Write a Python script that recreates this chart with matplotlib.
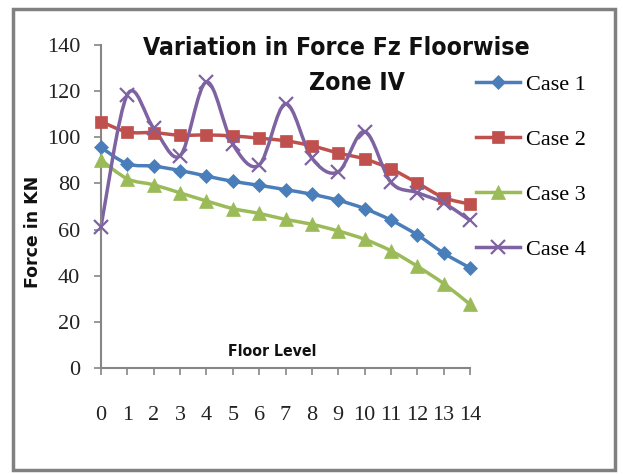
import matplotlib
matplotlib.use('Agg')
import os
import matplotlib.pyplot as plt
from matplotlib.path import Path
from matplotlib.patches import PathPatch, Rectangle
from matplotlib.lines import Line2D
from matplotlib import font_manager as fm

# ---------------- data ----------------
floors = list(range(15))
tick_labels = [str(f) for f in floors]
series_names = ["Case 1", "Case 2", "Case 3", "Case 4"]
case1 = [95.6, 88.5, 87.5, 85.6, 83.2, 80.9, 79.2, 77.3, 75.3, 72.7, 69.1, 64.1, 57.7, 49.8, 43.4]
case2 = [106.8, 102.3, 102.0, 100.9, 101.0, 100.6, 99.6, 98.5, 96.3, 93.2, 90.6, 86.3, 80.2, 73.9, 71.0]
case3 = [90.2, 82.0, 79.4, 75.9, 72.4, 69.1, 67.0, 64.4, 62.3, 59.4, 55.8, 50.8, 44.1, 36.6, 27.6]
case4 = [61.3, 118.5, 104.0, 92.0, 124.0, 97.0, 88.0, 114.5, 91.0, 85.0, 102.5, 80.5, 76.0, 71.5, 64.0]
yticks = [0, 20, 40, 60, 80, 100, 120, 140]
title_lines = ["Variation in Force Fz Floorwise", "Zone IV"]

# ---------------- styles ----------------
colors = ["#4A7EBB", "#C0504D", "#9BBB59", "#7E62A1"]
markers = ["D", "s", "^", "x"]
msizes = [7.5, 9, 10, 10]


def pick(names):
    avail = {f.name for f in fm.fontManager.ttflist}
    for n in names:
        if n in avail:
            return n
    return "DejaVu Sans"


def narrow_bold():
    """Find a condensed / narrow bold sans font file, if any is installed."""
    files = [f.fname for f in fm.fontManager.ttflist]
    prefs = ["LiberationSansNarrow-Bold", "ArialNarrow-Bold", "NotoSans-CondensedBold",
             "DejaVuSansCondensed-Bold", "OpenSans-CondensedBold", "OpenSans_Condensed-Bold",
             "RobotoCondensed-Bold", "NotoSans-SemiCondensedBold"]
    for p in prefs:
        for f in files:
            if os.path.basename(f).lower().startswith(p.lower()):
                return fm.FontProperties(fname=f), True
    for f in files:
        b = os.path.basename(f).lower()
        if ("condensed" in b or "narrow" in b) and "bold" in b and "extra" not in b and "semi" not in b:
            return fm.FontProperties(fname=f), True
    return fm.FontProperties(family="DejaVu Sans", weight="bold"), False


serif = pick(["Liberation Serif", "DejaVu Serif"])
nb_props, nb_found = narrow_bold()


def nb(size):
    p = nb_props.copy()
    p.set_size(size if nb_found else size * 0.8)
    return p


def smooth_path(xs, ys):
    """Excel-like smoothed line as cubic Bezier path through the data points."""
    pts = list(zip(xs, ys))
    n = len(pts)
    verts = [pts[0]]
    codes = [Path.MOVETO]
    for i in range(n - 1):
        p0 = pts[i - 1] if i > 0 else pts[i]
        p1 = pts[i]
        p2 = pts[i + 1]
        p3 = pts[i + 2] if i + 2 < n else pts[i + 1]
        c1 = (p1[0] + (p2[0] - p0[0]) / 6.0, p1[1] + (p2[1] - p0[1]) / 6.0)
        c2 = (p2[0] - (p3[0] - p1[0]) / 6.0, p2[1] - (p3[1] - p1[1]) / 6.0)
        verts += [c1, c2, p2]
        codes += [Path.CURVE4] * 3
    return Path(verts, codes)


W, H = 623, 474
fig = plt.figure(figsize=(W / 100, H / 100), dpi=100)
fig.patch.set_facecolor("white")

# outer chart border
fig.patches.append(Rectangle((13 / W, 1 - 470 / H), (615 - 13) / W, (470 - 9) / H,
                             transform=fig.transFigure, fill=False,
                             edgecolor="#808080", linewidth=2.5))

ax = fig.add_axes([101 / W, 1 - 368 / H, (470 - 101) / W, (368 - 45) / H])
ax.set_xlim(0, 14)
ax.set_ylim(0, 140)
ax.set_facecolor("none")

all_series = [case1, case2, case3, case4]
handles = []
for vals, c, m, ms, name in zip(all_series, colors, markers, msizes, series_names):
    ax.add_patch(PathPatch(smooth_path(floors, vals), fill=False, edgecolor=c,
                           linewidth=2.5, zorder=2, clip_on=False))
    mew = 1.6 if m == "x" else 0.5
    ax.plot(floors, vals, linestyle="none", marker=m, markersize=ms, color=c,
            markeredgecolor=c, markeredgewidth=mew, zorder=3, clip_on=False)
    handles.append(Line2D([], [], color=c, linewidth=2.5, marker=m, markersize=ms,
                          markeredgewidth=mew, markeredgecolor=c))

# axes styling
for s in ["top", "right"]:
    ax.spines[s].set_visible(False)
for s in ["left", "bottom"]:
    ax.spines[s].set_color("#868686")
    ax.spines[s].set_linewidth(1.5)

ax.set_xticks(floors)
ax.set_xticklabels(tick_labels)
ax.set_yticks(yticks)
ax.set_yticklabels([str(v) for v in yticks])
ax.tick_params(axis="x", direction="out", length=5, width=1.2, color="#868686",
               pad=22, labelsize=16, labelcolor="#222222")
ax.tick_params(axis="y", direction="out", length=5, width=1.2, color="#868686",
               pad=10, labelsize=16, labelcolor="#222222")
for lab in ax.get_xticklabels() + ax.get_yticklabels():
    lab.set_fontfamily(serif)

# texts
fig.text(336 / W, 1 - 48 / H, title_lines[0], ha="center", va="center",
         fontproperties=nb(17.8), color="#111111")
fig.text(357 / W, 1 - 83 / H, title_lines[1], ha="center", va="center",
         fontproperties=nb(17.8), color="#111111")
fig.text(33 / W, 1 - 232 / H, "Force in KN", rotation=90, ha="center", va="center",
         fontsize=12.5, fontweight="bold", family="DejaVu Sans", color="#111111")
fig.text(272 / W, 1 - 351 / H, "Floor Level", ha="center", va="center",
         fontproperties=nb(11.3), color="#111111")

fig.legend(handles, series_names, loc="upper left",
           bbox_to_anchor=(476 / W, 1 - 74 / H), frameon=False,
           prop={"family": serif, "size": 16}, handlelength=2.0,
           handletextpad=0.25, labelspacing=1.55, borderaxespad=0, borderpad=0)

fig.savefig("out.png", dpi=100)
